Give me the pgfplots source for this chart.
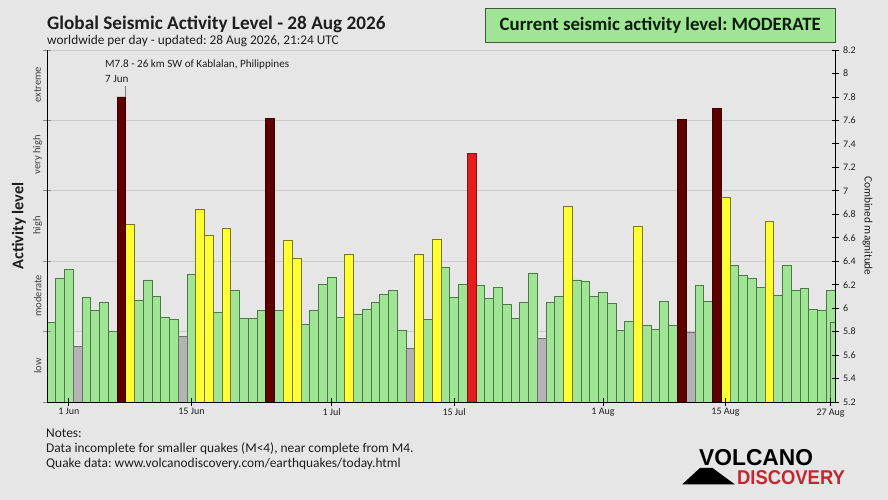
\documentclass[border=0pt]{standalone}
\usepackage{fontspec}
\setmainfont{Carlito}
\newfontfamily\logofont{Liberation Sans}
\usepackage{pgfplots}
\pgfplotsset{compat=1.18}
\usepackage{pgfplotstable}
\definecolor{bgc}{HTML}{E6E6E6}
\definecolor{gridc}{HTML}{CACACA}
\definecolor{gfill}{HTML}{A0E496}
\definecolor{gedge}{HTML}{4B7A45}
\definecolor{grfill}{HTML}{B3B3B3}
\definecolor{gredge}{HTML}{6E6E6E}
\definecolor{yfill}{HTML}{FFFF33}
\definecolor{yedge}{HTML}{77771E}
\definecolor{drfill}{HTML}{5E0000}
\definecolor{dredge}{HTML}{3A0000}
\definecolor{rfill}{HTML}{E41E1E}
\definecolor{redge}{HTML}{8A1010}
\definecolor{boxfill}{HTML}{A0E496}
\definecolor{boxedge}{HTML}{3C5A3C}
\definecolor{logored}{HTML}{C1272D}
\definecolor{txt}{HTML}{1E1E1E}
\frenchspacing

\pgfplotstableread{
x y
1 5.88
2 6.25
3 6.33
5 6.09
6 5.98
7 6.05
8 5.80
11 6.07
12 6.24
13 6.10
14 5.92
15 5.90
17 6.29
20 5.96
22 6.15
23 5.91
24 5.91
25 5.98
27 5.98
30 5.86
31 5.98
32 6.20
33 6.26
34 5.92
36 5.95
37 5.99
38 6.05
39 6.12
40 6.15
41 5.81
44 5.90
46 6.35
47 6.09
48 6.20
50 6.19
51 6.08
52 6.18
53 6.03
54 5.91
55 6.05
56 6.30
58 6.05
59 6.10
61 6.24
62 6.23
63 6.10
64 6.13
65 6.04
66 5.81
67 5.89
69 5.85
70 5.82
71 6.06
72 5.85
75 6.19
76 6.06
79 6.36
80 6.28
81 6.25
82 6.18
84 6.11
85 6.36
86 6.15
87 6.17
88 5.99
89 5.98
90 6.15
}\greenbars

\pgfplotstableread{
x y
4 5.67
16 5.76
42 5.66
57 5.74
74 5.79
}\greybars

\pgfplotstableread{
x y
10 6.71
18 6.84
19 6.62
21 6.68
28 6.58
29 6.42
35 6.46
43 6.46
45 6.59
60 6.87
68 6.70
78 6.94
83 6.74
}\yellowbars

\pgfplotstableread{
x y
9 7.80
26 7.62
73 7.61
77 7.70
}\darkredbars

\pgfplotstableread{
x y
49 7.32
}\redbars

\begin{document}
\begin{tikzpicture}[x=1pt,y=1pt]
\fill[bgc] (0,0) rectangle (888,500);

% grid axis
\begin{axis}[at={(47pt,98pt)}, anchor=south west, scale only axis,
  width=788pt, height=352pt, xmin=0.5, xmax=90.5, ymin=5.2, ymax=8.2,
  axis line style={draw=none}, xtick=\empty,
  ytick={5.8,6.4,7.0,7.6,8.2}, yticklabels={}, major tick length=0pt,
  ymajorgrids, grid style={gridc, line width=0.9pt}]
\addplot[draw=none] coordinates {(1,5.5)};
\end{axis}

% bars axis
\begin{axis}[at={(47pt,98pt)}, anchor=south west, scale only axis,
  width=788pt, height=352pt, xmin=0.5, xmax=90.5, ymin=5.2, ymax=8.2,
  axis x line*=bottom, axis y line*=left, axis on top,
  axis line style={black, line width=0.8pt},
  xtick={3,17,33,47,64,78,90},
  xticklabels={1 Jun,15 Jun,1 Jul,15 Jul,1 Aug,15 Aug,27 Aug},
  xticklabel style={font=\fontsize{10}{12}\selectfont, text=txt, yshift=1pt},
  x tick style={black, line width=0.8pt},
  ytick={5.2,5.8,6.4,7.0,7.6,8.2}, yticklabels={},
  y tick style={gray!90, line width=0.9pt},
  tick align=center, major tick length=8pt]
\addplot[ybar, bar width=1, bar shift=0, fill=gfill, draw=gedge, line width=0.8pt] table {\greenbars};
\addplot[ybar, bar width=1, bar shift=0, fill=grfill, draw=gredge, line width=0.8pt] table {\greybars};
\addplot[ybar, bar width=1, bar shift=0, fill=yfill, draw=yedge, line width=0.8pt] table {\yellowbars};
\addplot[ybar, bar width=1, bar shift=0, fill=drfill, draw=dredge, line width=0.8pt] table {\darkredbars};
\addplot[ybar, bar width=1, bar shift=0, fill=rfill, draw=redge, line width=0.8pt] table {\redbars};
\addplot[ybar, bar width=0.5, bar shift=0, fill=gfill, draw=gedge, line width=0.8pt] coordinates {(90.25,5.88)};
\draw[gray, line width=0.7pt] (axis cs:9.45,7.80) -- (axis cs:9.45,7.895);
\end{axis}

% right axis
\begin{axis}[at={(47pt,98pt)}, anchor=south west, scale only axis,
  width=788pt, height=352pt, xmin=0.5, xmax=90.5, ymin=5.2, ymax=8.2,
  axis x line=none, axis y line*=right,
  axis line style={black, line width=0.8pt},
  ytick={5.2,5.4,5.6,5.8,6.0,6.2,6.4,6.6,6.8,7.0,7.2,7.4,7.6,7.8,8.0,8.2},
  yticklabels={5.2,5.4,5.6,5.8,6,6.2,6.4,6.6,6.8,7,7.2,7.4,7.6,7.8,8,8.2},
  yticklabel style={font=\fontsize{10}{12}\selectfont, text=txt, xshift=1pt},
  y tick style={black, line width=0.8pt},
  tick align=center, major tick length=7pt]
\addplot[draw=none] coordinates {(1,5.5)};
\end{axis}

% titles
\node[anchor=base west, inner sep=0, text=txt, font=\fontsize{19.2}{22}\selectfont\bfseries] at (47,470) {Global Seismic Activity Level - 28 Aug 2026};
\node[anchor=base west, inner sep=0, text=txt, font=\fontsize{13.3}{15}\selectfont] at (47,455.7) {worldwide per day - updated: 28 Aug 2026, 21:24 UTC};

% status box
\node[draw=boxedge, fill=boxfill, line width=0.8pt, minimum width=350pt, minimum height=34pt, inner sep=0, text=txt!80!green!40!black, font=\fontsize{18.8}{22}\selectfont\bfseries] at (660.3,475) {Current seismic activity level: MODERATE};

% annotation
\node[anchor=west, inner sep=0, text=txt, font=\fontsize{11.1}{13}\selectfont] at (105,435) {M7.8 - 26 km SW of Kablalan, Philippines};
\node[anchor=west, inner sep=0, text=txt, font=\fontsize{11.1}{13}\selectfont] at (105,421) {7 Jun};

% axis labels
\node[rotate=90, inner sep=0, text=txt, font=\fontsize{16.3}{19}\selectfont\bfseries] at (19,274) {Activity level};
\node[rotate=-90, inner sep=0, text=txt, font=\fontsize{11.3}{13}\selectfont] at (867.5,274) {Combined magnitude};
\foreach \lab/\yy in {low/133.8, moderate/204.2, high/274.6, very high/345, extreme/415.4}
  \node[rotate=90, inner sep=0, text=black!75, font=\fontsize{10.5}{12}\selectfont] at (37.7,\yy) {\lab};

% notes
\node[anchor=base west, inner sep=0, text=txt, font=\fontsize{13.4}{15}\selectfont] at (46,62.3) {Notes:};
\node[anchor=base west, inner sep=0, text=txt, font=\fontsize{13.4}{15}\selectfont] at (46,47.7) {Data incomplete for smaller quakes (M<4), near complete from M4.};
\node[anchor=base west, inner sep=0, text=txt, font=\fontsize{13.4}{15}\selectfont] at (46,32.3) {Quake data: www.volcanodiscovery.com/earthquakes/today.html};

% logo
\fill[black] (682,15.5) -- (735,15.5) -- (712.5,32) -- (700,32) -- cycle;
\node[anchor=base west, inner sep=0, text depth=0pt, font=\fontsize{23}{26}\selectfont\logofont\bfseries, xscale=0.99] at (699,34.5) {VOLCANO};
\node[anchor=base west, inner sep=0, text=logored, font=\fontsize{20}{24}\selectfont\logofont\bfseries, xscale=0.92] at (737,15.5) {DISCOVERY};

\pgfresetboundingbox
\useasboundingbox (0,0) rectangle (888,500);
\end{tikzpicture}
\end{document}
